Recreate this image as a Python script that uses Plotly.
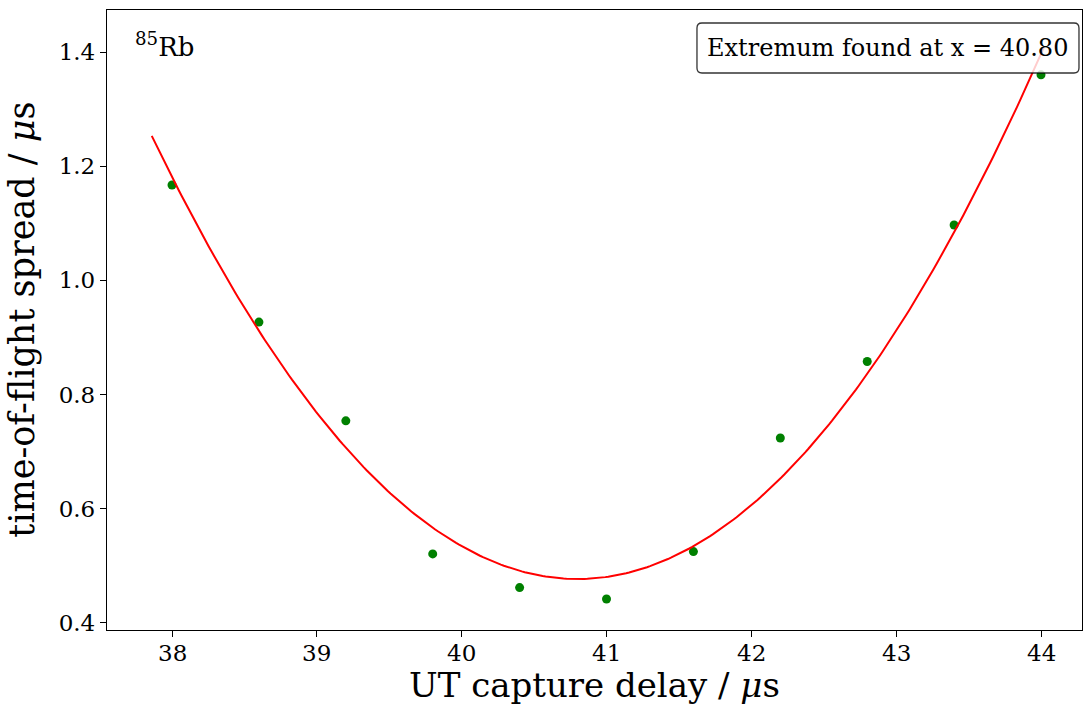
import numpy as np
import plotly.graph_objects as go

# Measured time-of-flight spread vs. UT capture delay (85Rb)
capture_delay_us = [38.0, 38.6, 39.2, 39.8, 40.4, 41.0, 41.6, 42.2, 42.8, 43.4, 44.0]
tof_spread_us = [1.167, 0.927, 0.754, 0.521, 0.462, 0.442, 0.525, 0.724, 0.858, 1.097, 1.360]

# Quadratic fit parameters: y = a (x - x0)^2 + c
fit_x0 = 40.80
fit_a = 0.0898
fit_c = 0.477
fit_span = (37.86, 44.02)

x_ticks = [38, 39, 40, 41, 42, 43, 44]
y_ticks = [0.4, 0.6, 0.8, 1.0, 1.2, 1.4]

FONT = "DejaVu Serif"

fit_x = np.linspace(fit_span[0], fit_span[1], 300)
fit_y = fit_a * (fit_x - fit_x0) ** 2 + fit_c

fig = go.Figure()
fig.add_trace(go.Scatter(
    x=capture_delay_us, y=tof_spread_us, mode="markers",
    marker=dict(color="#008000", size=9, line=dict(width=0)),
    showlegend=False,
))
fig.add_trace(go.Scatter(
    x=fit_x, y=fit_y, mode="lines",
    line=dict(color="#ff0000", width=2),
    showlegend=False,
))

axis_common = dict(
    showline=True, linecolor="black", linewidth=1.3, mirror=True,
    ticks="outside", ticklen=6, tickwidth=1.3, tickcolor="black",
    showgrid=False, zeroline=False,
    tickfont=dict(family=FONT, size=23, color="black"),
)

# x tick labels are placed as annotations (below) to sit close to the axis
fig.update_xaxes(range=[37.551, 44.283], tickvals=x_ticks,
                 showticklabels=False, **axis_common)
fig.update_yaxes(range=[0.3877, 1.4736], tickvals=y_ticks,
                 ticktext=[f"{v:.1f}" for v in y_ticks], **axis_common)

# Rounded box behind the extremum label (paper coordinates)
bx0, bx1 = 0.6051, 0.9969
by0, by1 = 0.8984, 0.979
rx, ry = 5 / 975, 5 / 620
box_path = (
    f"M {bx0 + rx},{by0} L {bx1 - rx},{by0} Q {bx1},{by0} {bx1},{by0 + ry} "
    f"L {bx1},{by1 - ry} Q {bx1},{by1} {bx1 - rx},{by1} "
    f"L {bx0 + rx},{by1} Q {bx0},{by1} {bx0},{by1 - ry} "
    f"L {bx0},{by0 + ry} Q {bx0},{by0} {bx0 + rx},{by0} Z"
)
fig.add_shape(type="path", path=box_path, xref="paper", yref="paper",
              fillcolor="rgba(255,255,255,0.8)",
              line=dict(color="rgba(0,0,0,0.8)", width=1.3), layer="above")

annotations = [
    dict(text=f"Extremum found at x = {fit_x0:.2f}", x=0.801, y=0.9387,
         xref="paper", yref="paper", xanchor="center", yanchor="middle",
         font=dict(family=FONT, size=24, color="black")),
    dict(text="<sup>85</sup>Rb", x=0.0267, y=0.943, xref="paper", yref="paper",
         xanchor="left", yanchor="middle",
         font=dict(family=FONT, size=26, color="black")),
    dict(text="UT capture delay / <i>μ</i>s", x=0.5, y=-0.088,
         xref="paper", yref="paper", xanchor="center", yanchor="middle",
         font=dict(family=FONT, size=34, color="black")),
    dict(text="time-of-flight spread / <i>μ</i>s", x=-0.0875, y=0.5, textangle=-90,
         xref="paper", yref="paper", xanchor="center", yanchor="middle",
         font=dict(family=FONT, size=35, color="black")),
]
for v in x_ticks:
    annotations.append(dict(
        text=str(v), x=v, y=-0.0371, xref="x", yref="paper",
        xanchor="center", yanchor="middle",
        font=dict(family=FONT, size=23, color="black"),
    ))
for a in annotations:
    a.update(showarrow=False)
fig.update_layout(annotations=annotations)

fig.update_layout(
    width=1083, height=713,
    margin=dict(l=107, r=1, t=10, b=83),
    paper_bgcolor="white", plot_bgcolor="white",
    font=dict(family=FONT, color="black"),
)

fig.write_html("out.html")
